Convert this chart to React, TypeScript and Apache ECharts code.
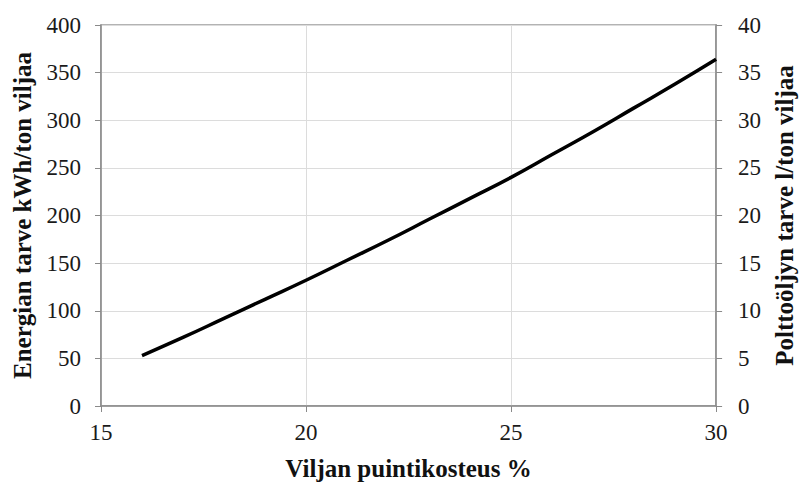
import React, { useEffect, useRef } from "react";
import * as echarts from "echarts";

const moisture = [16, 17, 18, 19, 20, 21, 22, 23, 24, 25, 26, 27, 28, 29, 30];
const energy = [53, 72, 92, 112, 132, 153, 174, 196, 218, 240, 264, 288, 313, 338, 364];

const xTitle = "Viljan puintikosteus %";
const leftTitle = "Energian tarve kWh/ton viljaa";
const rightTitle = "Polttoöljyn tarve l/ton viljaa";

const serif = "'Liberation Serif', 'Times New Roman', serif";

export default function App() {
  const ref = useRef<HTMLDivElement>(null);
  useEffect(() => {
    if (!ref.current) return;
    const chart = echarts.init(ref.current, null, { renderer: "svg" });
    const labelStyle = { color: "#1a1a1a", fontFamily: serif, fontSize: 23 };
    const titleStyle = { color: "#111", fontFamily: serif, fontSize: 25, fontWeight: "bold" as const };
    chart.setOption({
      animation: false,
      backgroundColor: "#fff",
      grid: { left: 101, right: 81, top: 25, bottom: 80, show: true, borderColor: "#9a9a9a", borderWidth: 1.5, containLabel: false },
      xAxis: {
        type: "value",
        min: 15,
        max: 30,
        interval: 5,
        name: xTitle,
        nameLocation: "middle",
        nameGap: 50,
        nameTextStyle: titleStyle,
        axisLine: { show: true, lineStyle: { color: "#8a8a8a", width: 1.5 } },
        axisTick: { show: true, length: 6, lineStyle: { color: "#8a8a8a" } },
        axisLabel: { ...labelStyle, margin: 15 },
        splitLine: { show: true, lineStyle: { color: "#dcdcdc", width: 1 } },
      },
      yAxis: [
        {
          type: "value",
          min: 0,
          max: 400,
          interval: 50,
          name: leftTitle,
          nameLocation: "middle",
          nameGap: 66,
          nameRotate: 90,
          nameTextStyle: titleStyle,
          axisLine: { show: true, lineStyle: { color: "#8a8a8a", width: 1.5 } },
          axisTick: { show: true, length: 6, lineStyle: { color: "#8a8a8a" } },
          axisLabel: { ...labelStyle, margin: 20 },
          splitLine: { show: true, lineStyle: { color: "#dcdcdc", width: 1 } },
        },
        {
          type: "value",
          min: 0,
          max: 40,
          interval: 5,
          position: "right",
          name: rightTitle,
          nameLocation: "middle",
          nameGap: 50,
          nameRotate: 90,
          nameTextStyle: titleStyle,
          axisLine: { show: true, lineStyle: { color: "#8a8a8a", width: 1.5 } },
          axisTick: { show: true, length: 6, lineStyle: { color: "#8a8a8a" } },
          axisLabel: { ...labelStyle, margin: 22 },
          splitLine: { show: false },
        },
      ],
      series: [
        {
          type: "line",
          yAxisIndex: 0,
          data: moisture.map((m, i) => [m, energy[i]]),
          smooth: true,
          showSymbol: false,
          lineStyle: { color: "#000", width: 3.5 },
        },
      ],
    });
    return () => chart.dispose();
  }, []);
  return <div ref={ref} style={{ position: "fixed", left: 0, top: 0, width: 805, height: 486 }} />;
}
